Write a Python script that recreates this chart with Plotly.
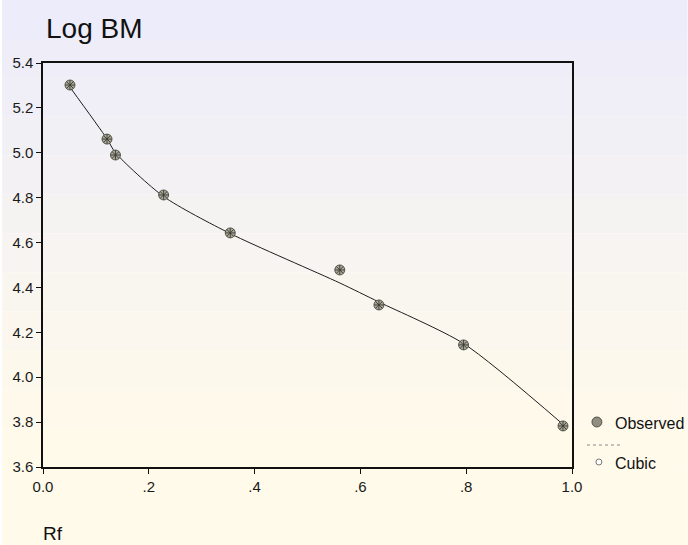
import plotly.graph_objects as go

# Data
rf = [0.051, 0.121, 0.137, 0.228, 0.354, 0.561, 0.635, 0.795, 0.983]
log_bm = [5.302, 5.061, 4.990, 4.812, 4.643, 4.478, 4.322, 4.144, 3.783]
cubic_fit = [5.292, 5.062, 5.000, 4.805, 4.640, 4.420, 4.335, 4.150, 3.790]

x_tickvals = [0.0, 0.2, 0.4, 0.6, 0.8, 1.0]
x_ticktext = ["0.0", ".2", ".4", ".6", ".8", "1.0"]
y_tickvals = [3.6, 3.8, 4.0, 4.2, 4.4, 4.6, 4.8, 5.0, 5.2, 5.4]
y_ticktext = ["3.6", "3.8", "4.0", "4.2", "4.4", "4.6", "4.8", "5.0", "5.2", "5.4"]

W, H = 688, 545
L, R, T, B = 41, 572, 63, 467
pw, ph = R - L, B - T


def px_x(px):
    return (px - L) / pw


def px_y(py):
    return (B - py) / ph


FONT = "Arial, Liberation Sans, sans-serif"

fig = go.Figure()

fig.add_trace(go.Scatter(
    x=rf, y=cubic_fit, mode="lines", name="Cubic",
    line=dict(color="#1e1e1e", width=1, shape="spline", smoothing=0.7),
    showlegend=False, cliponaxis=False,
))
fig.add_trace(go.Scatter(
    x=rf, y=log_bm, mode="markers", name="Observed",
    marker=dict(symbol="circle", size=10, color="#a9a898",
                line=dict(color="#3a3a32", width=0.8)),
    showlegend=False, cliponaxis=False,
))
fig.add_trace(go.Scatter(
    x=rf, y=log_bm, mode="markers", name="Observed",
    marker=dict(symbol="asterisk-open", size=8, color="#3a3a32",
                line=dict(color="#3a3a32", width=0.9)),
    showlegend=False, hoverinfo="skip", cliponaxis=False,
))

shapes = []
# soft background approximating the watermark tones
top_c = (236, 236, 250)
bot_c = (255, 250, 234)
n = 14
for i in range(n):
    t = i / (n - 1)
    c = tuple(int(round(top_c[k] + (bot_c[k] - top_c[k]) * min(1, t * 1.25))) for k in range(3))
    y0 = H * i / n
    y1 = H * (i + 1) / n
    shapes.append(dict(type="rect", xref="paper", yref="paper",
                       x0=px_x(0), x1=px_x(W), y0=px_y(y1), y1=px_y(y0),
                       fillcolor="rgb(%d,%d,%d)" % c, line=dict(width=0),
                       layer="below"))

# legend symbols
shapes.append(dict(type="circle", xref="paper", yref="paper",
                   x0=px_x(592), x1=px_x(602), y0=px_y(427), y1=px_y(417),
                   fillcolor="#8f8e80", line=dict(color="#3a3a32", width=0.8)))
shapes.append(dict(type="line", xref="paper", yref="paper",
                   x0=px_x(587), x1=px_x(623), y0=px_y(445), y1=px_y(445),
                   line=dict(color="#888888", width=1, dash="dot")))
shapes.append(dict(type="circle", xref="paper", yref="paper",
                   x0=px_x(596), x1=px_x(602), y0=px_y(465), y1=px_y(459),
                   fillcolor="white", line=dict(color="#777777", width=1)))

annotations = [
    dict(text="Log BM", xref="paper", yref="paper", x=px_x(42), y=px_y(29),
         xanchor="left", yanchor="middle", showarrow=False,
         font=dict(family=FONT, size=28, color="#111111")),
    dict(text="Rf", xref="paper", yref="paper", x=px_x(39), y=px_y(533),
         xanchor="left", yanchor="middle", showarrow=False,
         font=dict(family=FONT, size=19, color="#111111")),
    dict(text="Observed", xref="paper", yref="paper", x=px_x(613), y=px_y(423),
         xanchor="left", yanchor="middle", showarrow=False,
         font=dict(family=FONT, size=16, color="#111111")),
    dict(text="Cubic", xref="paper", yref="paper", x=px_x(613), y=px_y(463),
         xanchor="left", yanchor="middle", showarrow=False,
         font=dict(family=FONT, size=16, color="#111111")),
]

axis_common = dict(showline=True, linecolor="#111111", linewidth=1.5, mirror=True,
                   ticks="outside", ticklen=5, tickwidth=1, tickcolor="#111111",
                   showgrid=False, zeroline=False,
                   tickfont=dict(family=FONT, size=15, color="#1a1a1a"))

fig.update_layout(
    width=W, height=H,
    margin=dict(l=L, r=W - R, t=T, b=H - B, pad=0),
    paper_bgcolor="white", plot_bgcolor="rgba(0,0,0,0)",
    xaxis=dict(range=[0, 1], tickvals=x_tickvals, ticktext=x_ticktext, **axis_common),
    yaxis=dict(range=[3.6, 5.4], tickvals=y_tickvals, ticktext=y_ticktext, **axis_common),
    shapes=shapes, annotations=annotations, showlegend=False,
)

fig.write_html("out.html", config={"displayModeBar": False})

# remove the default page margin so the figure sits at the window's top-left corner
with open("out.html", "r", encoding="utf-8") as f:
    html = f.read()
html = html.replace("<head>", "<head><style>html,body{margin:0;padding:0;overflow:hidden;}</style>", 1)
with open("out.html", "w", encoding="utf-8") as f:
    f.write(html)
